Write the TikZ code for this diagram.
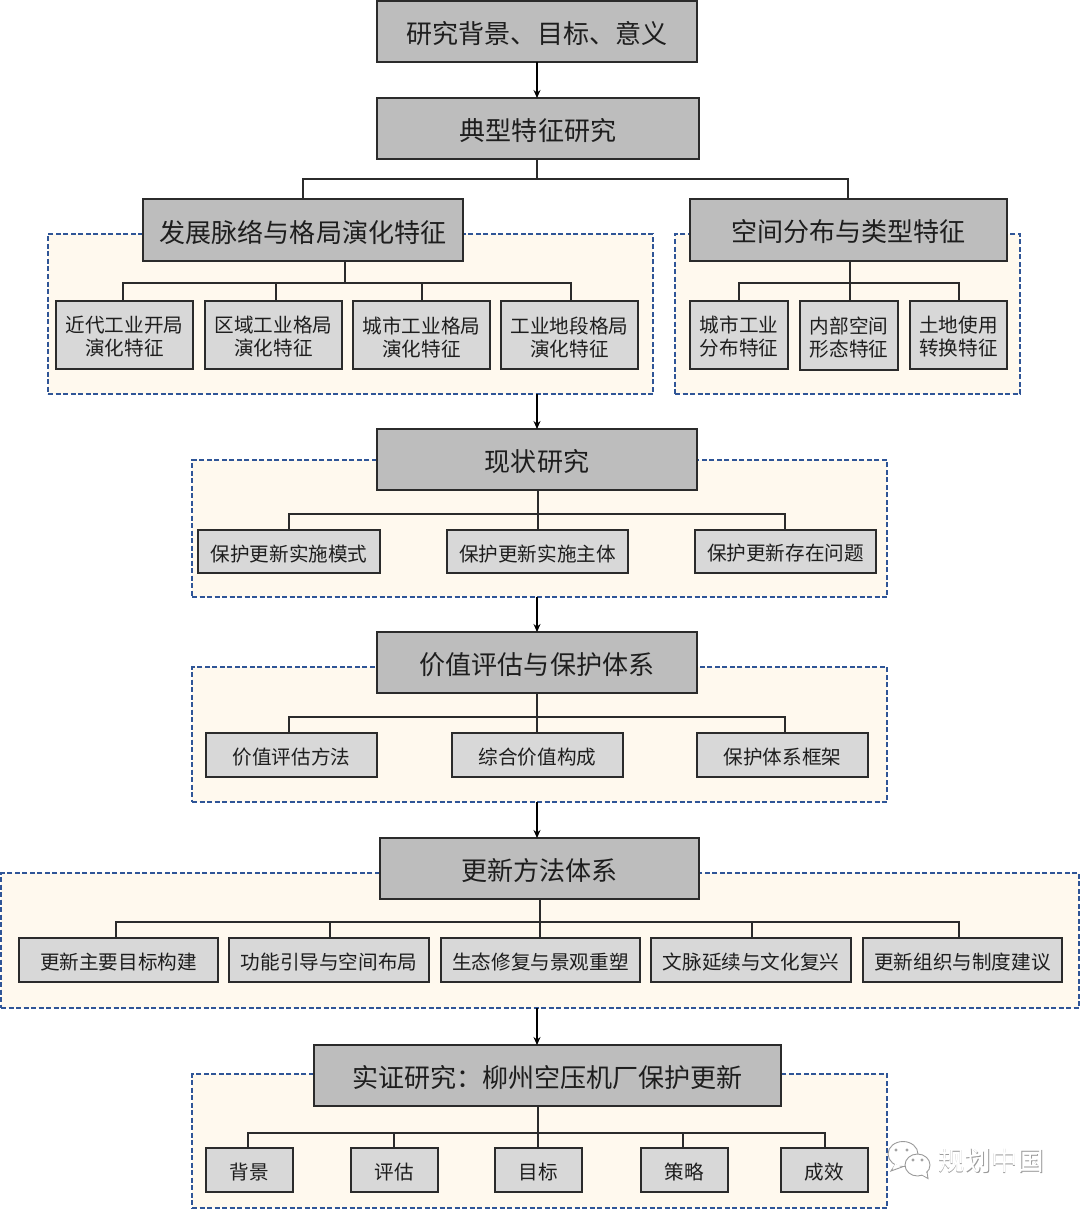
\documentclass[tikz,border=0pt]{standalone}
\usepackage{fontspec}
\setmainfont{Noto Sans CJK SC}
\usetikzlibrary{arrows.meta,calc}
\definecolor{bigfill}{HTML}{BDBDBD}
\definecolor{smallfill}{HTML}{D8D8D8}
\definecolor{framefill}{HTML}{FFF9EE}
\definecolor{frameline}{HTML}{2F5597}
\definecolor{boxline}{HTML}{2B2B2B}
\definecolor{txt}{HTML}{1E1E1E}
\definecolor{wm}{HTML}{9A9A9A}
\newcommand{\bx}[7][]{%
  \pgfmathsetmacro{\bxw}{#5-#3}\pgfmathsetmacro{\bxh}{#6-#4}%
  \node[#1,minimum width=\bxw pt,minimum height=\bxh pt] (#2) at ({(#3+#5)/2},{(#4+#6)/2}) {\vbox{\vskip 4pt\halign{\hfil##\hfil\cr#7\crcr}}};}
\tikzset{
  x=1pt,y=-1pt,
  bigbox/.style={draw=boxline,line width=1.2pt,fill=bigfill,inner sep=0pt,outer sep=0pt,text=txt,font=\fontsize{26.05}{30}\selectfont},
  smallbox/.style={draw=boxline,line width=1.2pt,fill=smallfill,inner sep=0pt,outer sep=0pt,text=txt,font=\fontsize{19.6}{23}\selectfont},
  framebox/.style={draw=frameline,line width=1.2pt,dash pattern=on 5pt off 2.5pt,fill=framefill,inner sep=0pt,outer sep=0pt,font=\fontsize{1}{1}\selectfont},
  link/.style={draw=boxline,line width=1.1pt},
  flow/.style={draw=black,line width=1.1pt,-{Stealth[length=8pt,width=7pt]}},
  bubble/.style={draw=wm,line width=.9pt,fill=white},
  wmtext/.style={font=\fontsize{26.5}{30}\selectfont,inner sep=0pt},
}
\begin{document}
\begin{tikzpicture}
\useasboundingbox (0,0) rectangle (1080,1209);
% frames
\bx[framebox]{f1}{48}{234}{653}{394}{}
\bx[framebox]{f2}{675}{234}{1020}{394}{}
\bx[framebox]{f3}{192}{460}{887}{597}{}
\bx[framebox]{f4}{192}{667}{887}{802}{}
\bx[framebox]{f5}{1}{873}{1079}{1008}{}
\bx[framebox]{f6}{192}{1074}{887}{1208}{}
% main boxes
\bx[bigbox]{top}{377}{1}{697}{62}{研究背景、目标、意义}
\bx[bigbox]{typ}{377}{98}{699}{159}{典型特征研究}
\bx[bigbox]{dev}{143}{199}{463}{261}{发展脉络与格局演化特征}
\bx[bigbox]{spa}{690}{199}{1007}{261}{空间分布与类型特征}
\bx[bigbox]{cur}{377}{429}{697}{490}{现状研究}
\bx[bigbox]{val}{377}{632}{697}{693}{价值评估与保护体系}
\bx[bigbox]{upd}{380}{838}{699}{899}{更新方法体系}
\bx[bigbox]{emp}{314}{1045}{781}{1106}{实证研究：柳州空压机厂保护更新}
% small boxes
\bx[smallbox]{a1}{56}{301}{193}{369}{近代工业开局\cr 演化特征}
\bx[smallbox]{a2}{205}{301}{342}{369}{区域工业格局\cr 演化特征}
\bx[smallbox]{a3}{353}{301}{490}{369}{城市工业格局\cr 演化特征}
\bx[smallbox]{a4}{501}{301}{638}{369}{工业地段格局\cr 演化特征}
\bx[smallbox]{b1}{690}{301}{788}{369}{城市工业\cr 分布特征}
\bx[smallbox]{b2}{800}{301}{898}{370}{内部空间\cr 形态特征}
\bx[smallbox]{b3}{910}{301}{1007}{369}{土地使用\cr 转换特征}
\bx[smallbox]{c1}{198}{530}{380}{573}{保护更新实施模式}
\bx[smallbox]{c2}{447}{530}{628}{573}{保护更新实施主体}
\bx[smallbox]{c3}{695}{530}{876}{573}{保护更新存在问题}
\bx[smallbox]{d1}{206}{733}{377}{777}{价值评估方法}
\bx[smallbox]{d2}{452}{733}{623}{777}{综合价值构成}
\bx[smallbox]{d3}{697}{733}{868}{777}{保护体系框架}
\bx[smallbox]{e1}{19}{938}{218}{982}{更新主要目标构建}
\bx[smallbox]{e2}{229}{938}{429}{982}{功能引导与空间布局}
\bx[smallbox]{e3}{441}{938}{640}{982}{生态修复与景观重塑}
\bx[smallbox]{e4}{651}{938}{851}{982}{文脉延续与文化复兴}
\bx[smallbox]{e5}{863}{938}{1062}{982}{更新组织与制度建议}
\bx[smallbox]{g1}{206}{1148}{293}{1192}{背景}
\bx[smallbox]{g2}{351}{1148}{438}{1192}{评估}
\bx[smallbox]{g3}{495}{1148}{582}{1192}{目标}
\bx[smallbox]{g4}{641}{1148}{728}{1192}{策略}
\bx[smallbox]{g5}{781}{1148}{868}{1192}{成效}
% tree connectors
\coordinate (tA) at (537,179);
\coordinate (tB) at (303,179);
\coordinate (tC) at (848,179);
\draw[link] (tA |- typ.south) -- (tA);
\draw[link] (tB |- dev.north) -- (tB) -- (tC) -- (tC |- spa.north);
%
\coordinate (ha) at (345,283);
\draw[link] (ha |- dev.south) -- (ha);
\coordinate (ha1) at (123,283);\coordinate (ha2) at (276,283);\coordinate (ha3) at (422,283);\coordinate (ha4) at (571,283);
\draw[link] (ha1 |- a1.north) -- (ha1) -- (ha4) -- (ha4 |- a4.north);
\draw[link] (ha2) -- (ha2 |- a2.north);
\draw[link] (ha3) -- (ha3 |- a3.north);
%
\coordinate (hb) at (850,283);
\draw[link] (hb |- spa.south) -- (hb |- b2.north);
\coordinate (hb1) at (739,283);\coordinate (hb3) at (959,283);
\draw[link] (hb1 |- b1.north) -- (hb1) -- (hb3) -- (hb3 |- b3.north);
%
\coordinate (hc) at (538,514);
\draw[link] (hc |- cur.south) -- (hc |- c2.north);
\coordinate (hc1) at (289,514);\coordinate (hc3) at (785,514);
\draw[link] (hc1 |- c1.north) -- (hc1) -- (hc3) -- (hc3 |- c3.north);
%
\coordinate (hd) at (537,717);
\draw[link] (hd |- val.south) -- (hd |- d2.north);
\coordinate (hd1) at (289,717);\coordinate (hd3) at (785,717);
\draw[link] (hd1 |- d1.north) -- (hd1) -- (hd3) -- (hd3 |- d3.north);
%
\coordinate (he) at (540,922);
\draw[link] (he |- upd.south) -- (he |- e3.north);
\coordinate (he1) at (116,922);\coordinate (he2) at (330,922);\coordinate (he4) at (752,922);\coordinate (he5) at (959,922);
\draw[link] (he1 |- e1.north) -- (he1) -- (he5) -- (he5 |- e5.north);
\draw[link] (he2) -- (he2 |- e2.north);
\draw[link] (he4) -- (he4 |- e4.north);
%
\coordinate (hg) at (538,1133);
\draw[link] (hg |- emp.south) -- (hg |- g3.north);
\coordinate (hg1) at (248,1133);\coordinate (hg2) at (394,1133);\coordinate (hg4) at (683,1133);\coordinate (hg5) at (825,1133);
\draw[link] (hg1 |- g1.north) -- (hg1) -- (hg5) -- (hg5 |- g5.north);
\draw[link] (hg2) -- (hg2 |- g2.north);
\draw[link] (hg4) -- (hg4 |- g4.north);
% flow arrows
\coordinate (ax) at (537,0);
\draw[flow] (ax |- top.south) -- (ax |- typ.north);
\draw[flow] (ax |- f1.south) -- (ax |- cur.north);
\draw[flow] (ax |- f3.south) -- (ax |- val.north);
\draw[flow] (ax |- f4.south) -- (ax |- upd.north);
\draw[flow] (ax |- f5.south) -- (ax |- emp.north);
% watermark
\draw[bubble] (903,1154) ellipse [x radius=15,y radius=12.5];
\draw[bubble] (895,1165) -- (891,1171) -- (902,1167) -- cycle;
\fill[white] (895,1164) -- (892.5,1169) -- (902,1166) -- cycle;
\draw[wm,line width=.7pt] (896,1150) circle (1.2);
\draw[wm,line width=.7pt] (907,1150) circle (1.2);
\draw[bubble] (917.5,1165) ellipse [x radius=12.5,y radius=11];
\draw[bubble] (922,1175) -- (928,1178.5) -- (927,1172) -- cycle;
\fill[white] (921,1174) -- (927,1177) -- (926,1171) -- cycle;
\draw[wm,line width=.7pt] (913,1160) circle (1.2);
\draw[wm,line width=.7pt] (922,1160) circle (1.2);
\node[wmtext,text=wm] (wm1) at (991.7,1161) {规划中国};
\node[wmtext,text=white] (wm2) at (991,1160.3) {规划中国};
\end{tikzpicture}
\end{document}
